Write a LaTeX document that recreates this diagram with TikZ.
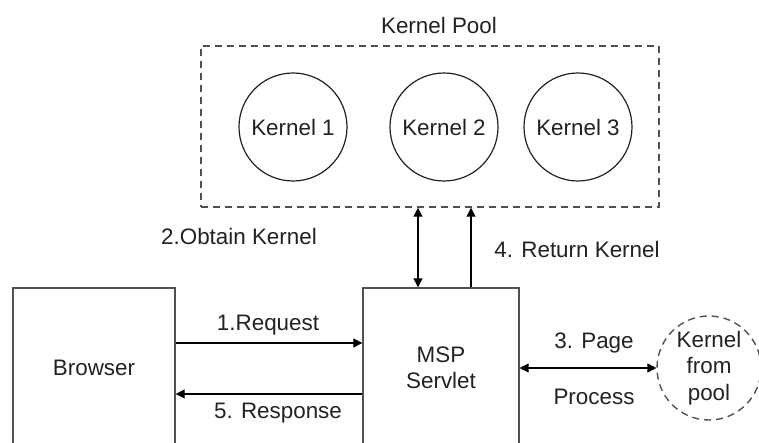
\documentclass[tikz,border=0pt]{standalone}
\usepackage{fontspec}
\setmainfont{Liberation Sans}
\usepackage{tikz}
\usetikzlibrary{arrows.meta,calc}
\definecolor{linegray}{HTML}{505050}
\definecolor{textgray}{HTML}{222222}

\begin{document}
\begin{tikzpicture}[x=0.5pt,y=-0.5pt,
	every node/.style={font=\fontsize{11.2}{13.2}\selectfont,text=textgray,inner sep=0pt},
	box/.style={draw=linegray,line width=0.7pt,rectangle,align=center},
	kernel/.style={draw=textgray,line width=0.6pt,circle,minimum size=54pt},
	pooled/.style={draw=linegray,line width=0.7pt,dash pattern=on 3.5pt off 2.5pt},
	link/.style={line width=0.6pt,-{Triangle[length=4.5pt,width=4.5pt]}},
	dlink/.style={line width=0.6pt,{Triangle[length=4.5pt,width=4.5pt]}-{Triangle[length=4.5pt,width=4.5pt]}}]
	\useasboundingbox (0,0) rectangle (759,443);
	\clip (0,0) rectangle (759,443);
	\node[pooled,rectangle,minimum width=229pt,minimum height=80.5pt] (pool) at (430,126.5) {};
	\node (pooltitle) at (439,25) {Kernel Pool};
	\node[kernel] (k1) at (293,127) {Kernel 1};
	\node[kernel] (k2) at (444,127) {Kernel 2};
	\node[kernel] (k3) at (578,127) {Kernel 3};
	\node[box,minimum width=81pt,minimum height=80pt] (browser) at (94,368) {Browser};
	\node[box,minimum width=78pt,minimum height=80pt] (msp) at (441,368) {MSP\\Servlet};
	\node[pooled,circle,minimum size=52pt,align=center] (frompool) at (709,368) {Kernel\\from\\pool};
	\draw[link] ($(browser.east)+(0,-25)$) -- ($(msp.west)+(0,-25)$);
	\draw[link] ($(msp.west)+(0,26)$) -- ($(browser.east)+(0,26)$);
	\draw[dlink] (msp.east) -- (frompool.west);
	\coordinate (get) at ($(msp.north)+(-23,0)$);
	\coordinate (ret) at ($(msp.north)+(30,0)$);
	\draw[dlink] (get) -- (get |- pool.south);
	\draw[link] (ret) -- (ret |- pool.south);
	\node (obtain) at (239,236) {2.Obtain Kernel};
	\node (return) at (577,249) {4. Return Kernel};
	\node (request) at (268,325) {1.Request};
	\node (response) at (278,413) {5. Response};
	\node (page) at (594,343) {3. Page};
	\node (process) at (594,397) {Process};
\end{tikzpicture}
\end{document}
